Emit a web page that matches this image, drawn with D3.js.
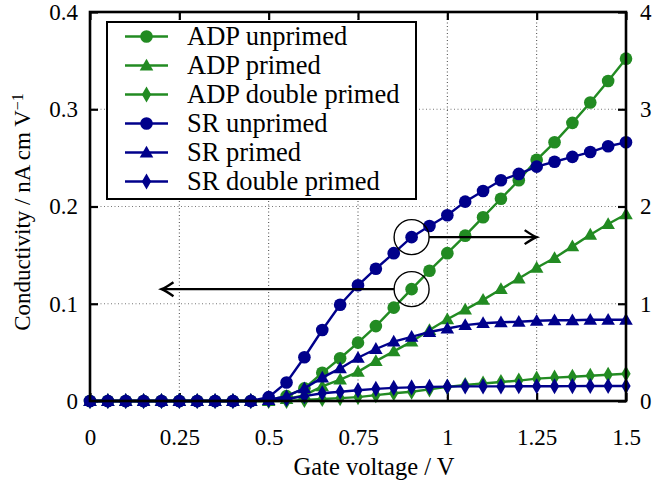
<!DOCTYPE html>
<meta charset="utf-8">
<script src="https://d3js.org/d3.v7.min.js"></script>
<style>
  body { margin: 0; background: #fff; }
  text { font-family: "Liberation Serif", "DejaVu Serif", serif; fill: #000; }
</style>
<div id="chart"></div>
<script>

// gate voltage (V)
var voltage = [0, 0.05, 0.1, 0.15, 0.2, 0.25, 0.3, 0.35, 0.4, 0.45,
  0.5, 0.55, 0.6, 0.65, 0.7, 0.75, 0.8, 0.85, 0.9, 0.95,
  1.0, 1.05, 1.1, 1.15, 1.2, 1.25, 1.3, 1.35, 1.4, 1.45, 1.5]

// ADP series, left axis (nA cm V^-1)
var adpUnprimed = [0, 0, 0, 0, 0, 0, 0, 0, 0, 0,
  0.001, 0.005, 0.013, 0.029, 0.044, 0.060, 0.077, 0.096, 0.115, 0.134,
  0.152, 0.170, 0.189, 0.208, 0.227, 0.248, 0.266, 0.286, 0.307, 0.329, 0.352]
var adpPrimed = [0, 0, 0, 0, 0, 0, 0, 0, 0, 0,
  0, 0.002, 0.006, 0.015, 0.022, 0.030, 0.041, 0.051, 0.061, 0.073,
  0.084, 0.094, 0.104, 0.115, 0.126, 0.137, 0.147, 0.159, 0.171, 0.182, 0.192]
var adpDouble = [0, 0, 0, 0, 0, 0, 0, 0, 0, 0,
  0, 0, 0.001, 0.002, 0.003, 0.004, 0.006, 0.008, 0.0095, 0.012,
  0.0145, 0.0165, 0.018, 0.0195, 0.021, 0.023, 0.024, 0.025, 0.026, 0.027, 0.028]

// SR series, right axis
var srUnprimed = [0, 0, 0, 0, 0, 0, 0, 0, 0, 0,
  0.04, 0.19, 0.45, 0.73, 0.99, 1.19, 1.36, 1.52, 1.685, 1.80,
  1.91, 2.05, 2.16, 2.27, 2.335, 2.41, 2.46, 2.51, 2.56, 2.62, 2.66]
var srPrimed = [0, 0, 0, 0, 0, 0, 0, 0, 0, 0,
  0.01, 0.05, 0.13, 0.24, 0.335, 0.445, 0.535, 0.61, 0.66, 0.71,
  0.745, 0.78, 0.80, 0.81, 0.815, 0.825, 0.83, 0.83, 0.835, 0.835, 0.835]
var srDouble = [0, 0, 0, 0, 0, 0, 0, 0, 0, 0,
  0.01, 0.02, 0.05, 0.08, 0.095, 0.11, 0.125, 0.135, 0.14, 0.145,
  0.148, 0.15, 0.15, 0.15, 0.151, 0.152, 0.152, 0.153, 0.154, 0.154, 0.155]

var xTicks = [0, 0.25, 0.5, 0.75, 1, 1.25, 1.5]
var leftTicks = [0, 0.1, 0.2, 0.3, 0.4]
var rightTicks = [0, 1, 2, 3, 4]

var green = "#228b22", navy = "#00008b"

var series = [
  {name: "ADP unprimed", values: adpUnprimed, axis: "left", color: green, shape: "circle"},
  {name: "ADP primed", values: adpPrimed, axis: "left", color: green, shape: "triangle"},
  {name: "ADP double primed", values: adpDouble, axis: "left", color: green, shape: "diamond"},
  {name: "SR unprimed", values: srUnprimed, axis: "right", color: navy, shape: "circle"},
  {name: "SR primed", values: srPrimed, axis: "right", color: navy, shape: "triangle"},
  {name: "SR double primed", values: srDouble, axis: "right", color: navy, shape: "diamond"}
]

var width = 667, height = 490
var plotL = 90, plotR = 626, plotT = 12, plotB = 401

var svg = d3.select("#chart").append("svg")
  .attr("width", width).attr("height", height)

var x = d3.scaleLinear().domain([0, 1.5]).range([plotL, plotR])
var yL = d3.scaleLinear().domain([0, 0.4]).range([plotB, plotT])
var yR = d3.scaleLinear().domain([0, 4]).range([plotB, plotT])

// grid
var grid = svg.append("g").attr("stroke", "#444").attr("stroke-width", 1).attr("stroke-dasharray", "1,2.5")
grid.selectAll(".gx").data(xTicks.slice(1, -1)).enter().append("line")
  .attr("x1", d => x(d)).attr("x2", d => x(d)).attr("y1", plotT).attr("y2", plotB)
grid.selectAll(".gy").data(leftTicks.slice(1, -1)).enter().append("line")
  .attr("stroke", "#777")
  .attr("x1", plotL).attr("x2", plotR).attr("y1", d => yL(d)).attr("y2", d => yL(d))

// axes with inward ticks
function styleAxis(g) {
  g.select(".domain").remove()
  g.selectAll(".tick line").attr("stroke", "#000").attr("stroke-width", 2.2)
  g.selectAll("text").style("font-size", "23px").style("font-family", "Liberation Serif")
}
var fmt = d => String(d)
svg.append("g").attr("transform", "translate(0," + plotB + ")")
  .call(d3.axisBottom(x).tickValues(xTicks).tickFormat(fmt).tickSize(-8).tickPadding(28))
  .call(styleAxis)
svg.append("g").attr("transform", "translate(0," + plotT + ")")
  .call(d3.axisTop(x).tickValues(xTicks).tickFormat("").tickSize(-8))
  .call(styleAxis)
svg.append("g").attr("transform", "translate(" + plotL + ",0)")
  .call(d3.axisLeft(yL).tickValues(leftTicks).tickFormat(fmt).tickSize(-8).tickPadding(12))
  .call(styleAxis)
svg.append("g").attr("transform", "translate(" + plotR + ",0)")
  .call(d3.axisRight(yR).tickValues(rightTicks).tickFormat(fmt).tickSize(-8).tickPadding(14))
  .call(styleAxis)

// markers
var symbolFor = {
  circle: d3.symbol().type(d3.symbolCircle).size(125),
  triangle: d3.symbol().type(d3.symbolTriangle).size(80),
  diamond: d3.symbol().type(d3.symbolDiamond).size(75)
}

series.forEach(function(s) {
  var y = s.axis == "left" ? yL : yR
  var pts = voltage.map((v, i) => [x(v), y(s.values[i])])
  var g = svg.append("g")
  g.append("path")
    .attr("d", d3.line()(pts))
    .attr("fill", "none").attr("stroke", s.color).attr("stroke-width", 2.4)
  g.selectAll("path.m").data(pts).enter().append("path")
    .attr("class", "m")
    .attr("transform", d => "translate(" + d[0] + "," + (d[1] + (s.shape == "triangle" ? 1 : 0)) + ")")
    .attr("d", symbolFor[s.shape]())
    .attr("fill", s.color)
})

// frame
svg.append("rect")
  .attr("x", plotL).attr("y", plotT).attr("width", plotR - plotL).attr("height", plotB - plotT)
  .attr("fill", "none").attr("stroke", "#000").attr("stroke-width", 2.6)

// annotations: circles around the points at 0.9 V and arrows to the axis each series uses
var markV = 0.9, r = 17.5
var i9 = voltage.indexOf(markV)
var srPt = [x(markV), yR(srUnprimed[i9])]
var adpPt = [x(markV), yL(adpUnprimed[i9])]
;[srPt, adpPt].forEach(function(p) {
  svg.append("circle").attr("cx", p[0]).attr("cy", p[1]).attr("r", r)
    .attr("fill", "none").attr("stroke", "#000").attr("stroke-width", 1.4)
})
function arrow(x0, x1, yy) {
  var dir = x1 > x0 ? 1 : -1
  svg.append("line").attr("x1", x0).attr("x2", x1 - dir * 2).attr("y1", yy).attr("y2", yy)
    .attr("stroke", "#000").attr("stroke-width", 2.4)
  svg.append("path")
    .attr("d", "M" + (x1 - dir * 12) + "," + (yy - 7) +
      " Q" + (x1 - dir * 4) + "," + (yy - 1.5) + " " + x1 + "," + yy +
      " Q" + (x1 - dir * 4) + "," + (yy + 1.5) + " " + (x1 - dir * 12) + "," + (yy + 7))
    .attr("fill", "none").attr("stroke", "#000").attr("stroke-width", 2.4)
}
arrow(srPt[0] + r, x(1.25), srPt[1])
arrow(adpPt[0] - r, x(0.2), adpPt[1])

// legend
var lg = svg.append("g")
lg.append("rect").attr("x", 107).attr("y", 22).attr("width", 309).attr("height", 177)
  .attr("fill", "#fff").attr("stroke", "#000").attr("stroke-width", 2)
series.forEach(function(s, i) {
  var yy = 36.5 + i * 29
  lg.append("line").attr("x1", 125).attr("x2", 168).attr("y1", yy).attr("y2", yy)
    .attr("stroke", s.color).attr("stroke-width", 2.4)
  lg.append("path").attr("transform", "translate(146.5," + (yy + (s.shape == "triangle" ? 1 : 0)) + ")")
    .attr("d", symbolFor[s.shape]()).attr("fill", s.color)
  lg.append("text").attr("x", 187).attr("y", yy).attr("dy", "0.33em")
    .style("font-size", "26.5px").text(s.name)
})

// axis titles
svg.append("text").attr("x", (plotL + plotR) / 2 + 16).attr("y", 475)
  .attr("text-anchor", "middle").style("font-size", "24.5px").text("Gate voltage / V")
var yt = svg.append("text").attr("transform", "translate(30,212) rotate(-90)")
  .attr("text-anchor", "middle").style("font-size", "23px")
yt.append("tspan").text("Conductivity / nA cm V")
yt.append("tspan").attr("dy", "-0.45em").style("font-size", "16px").text("\u22121")

</script>
